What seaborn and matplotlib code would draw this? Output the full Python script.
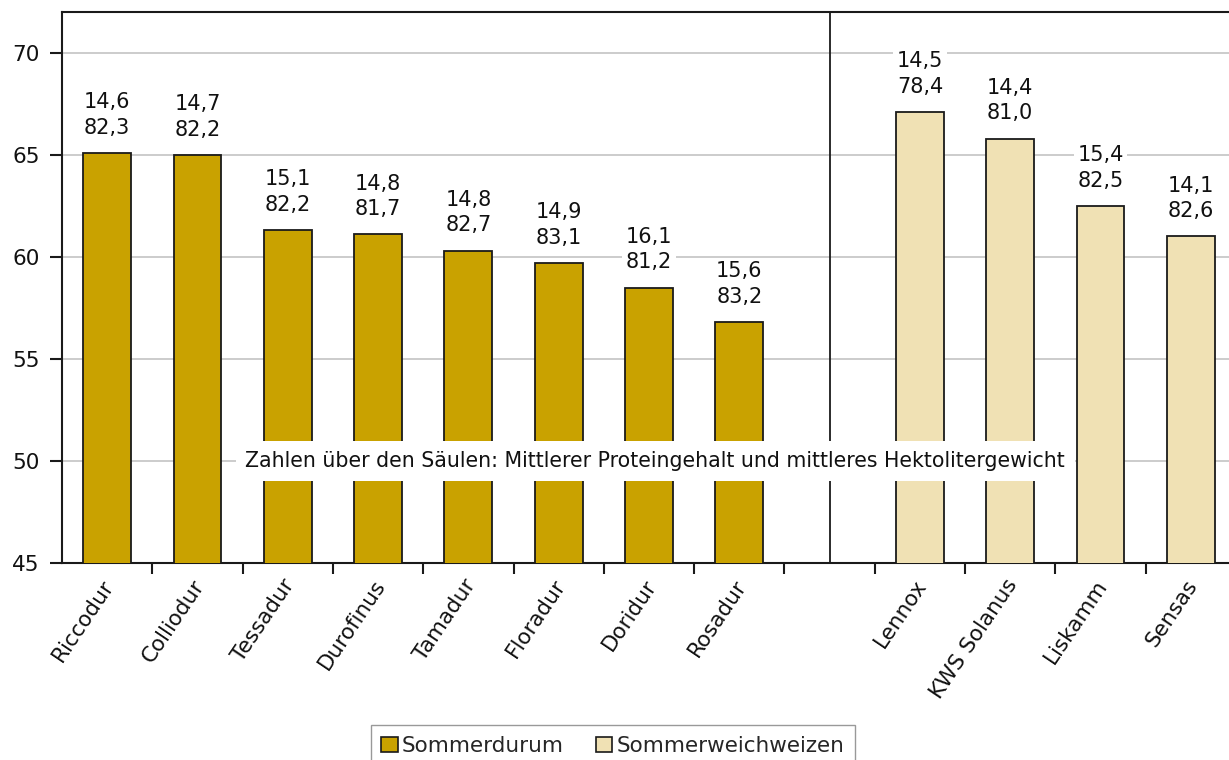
import matplotlib
matplotlib.use("Agg")
import matplotlib.pyplot as plt
import seaborn as sns
import pandas as pd
from matplotlib.patches import Patch

durum_sorten = ["Riccodur", "Colliodur", "Tessadur", "Durofinus", "Tamadur", "Floradur", "Doridur", "Rosadur"]
durum_ertrag = [65.1, 65.0, 61.3, 61.1, 60.3, 59.7, 58.5, 56.8]
durum_protein = ["14,6", "14,7", "15,1", "14,8", "14,8", "14,9", "16,1", "15,6"]
durum_hl = ["82,3", "82,2", "82,2", "81,7", "82,7", "83,1", "81,2", "83,2"]

weich_sorten = ["Lennox", "KWS Solanus", "Liskamm", "Sensas"]
weich_ertrag = [67.1, 65.8, 62.5, 61.0]
weich_protein = ["14,5", "14,4", "15,4", "14,1"]
weich_hl = ["78,4", "81,0", "82,5", "82,6"]

gruppen = ["Sommerdurum", "Sommerweichweizen"]
farben = ["#C9A200", "#F0E1B4"]
hinweis = "Zahlen über den Säulen: Mittlerer Proteingehalt und mittleres Hektolitergewicht"

df = pd.DataFrame({
    "Sorte": durum_sorten + weich_sorten,
    "Ertrag": durum_ertrag + weich_ertrag,
    "Gruppe": [gruppen[0]] * len(durum_sorten) + [gruppen[1]] * len(weich_sorten),
    "Protein": durum_protein + weich_protein,
    "HL": durum_hl + weich_hl,
})
order = durum_sorten + [" "] + weich_sorten

sns.set_theme(style="white")
plt.rcParams["font.family"] = ["DejaVu Sans"]

fig = plt.figure(figsize=(12.29, 7.6), dpi=100)
ax = fig.add_axes([62 / 1229, 197 / 760, 1174 / 1229, 551 / 760])

sns.barplot(data=df, x="Sorte", y="Ertrag", hue="Gruppe", order=order,
            hue_order=gruppen, palette=farben, saturation=1, dodge=False, width=0.53,
            edgecolor="#1a1a1a", linewidth=1.3, ax=ax, legend=False, zorder=3)

ax.set_ylim(45, 72)
ax.set_xlim(-0.5, len(order) - 0.5)
ax.set_yticks([45, 50, 55, 60, 65, 70])
ax.yaxis.grid(True, color="#c8c8c8", linewidth=1.3, zorder=0)
ax.set_axisbelow(True)
ax.set_xlabel("")
ax.set_ylabel("")

ax.set_xticks([i + 0.5 for i in range(len(order) - 1)])
ax.set_xticklabels([])
ax.tick_params(axis="x", direction="out", length=8, width=1.5, color="#1a1a1a", bottom=True)
ax.tick_params(axis="y", direction="out", length=9, width=1.5, color="#1a1a1a", left=True,
               labelsize=15.5, pad=7, labelcolor="#111111")

for i, name in enumerate(order):
    if name.strip():
        ax.text(i + 0.03, 44.1, name, rotation=56, rotation_mode="anchor",
                ha="right", va="center", fontsize=15.5, color="#111111")

for s in ["left", "bottom", "top"]:
    ax.spines[s].set_color("#1a1a1a")
    ax.spines[s].set_linewidth(1.5)
ax.spines["right"].set_visible(False)

ax.axvline(order.index(" "), color="#1a1a1a", linewidth=1.3, zorder=4)

for _, row in df.iterrows():
    xi = order.index(row["Sorte"])
    ax.text(xi, row["Ertrag"] + 0.75, f"{row['Protein']}\n{row['HL']}", ha="center", va="bottom",
            fontsize=15, color="#111111", linespacing=1.35,
            bbox=dict(facecolor="white", edgecolor="none", pad=2.5), zorder=5)

ax.text(6.07, 50, hinweis, ha="center", va="center", fontsize=14.8, color="#111111",
        bbox=dict(facecolor="white", edgecolor="none", pad=7), zorder=5)

handles = [Patch(facecolor=c, edgecolor="#1a1a1a", linewidth=1.2) for c in farben]
fig.legend(handles, gruppen, loc="center", bbox_to_anchor=(613 / 1229, 1 - 746 / 760),
           ncol=2, frameon=True, fancybox=False, edgecolor="#808080", fontsize=15.5,
           handlelength=0.75, handleheight=0.75, handletextpad=0.2, columnspacing=1.5,
           borderpad=0.5, borderaxespad=0)

fig.savefig("out.png", dpi=100)
